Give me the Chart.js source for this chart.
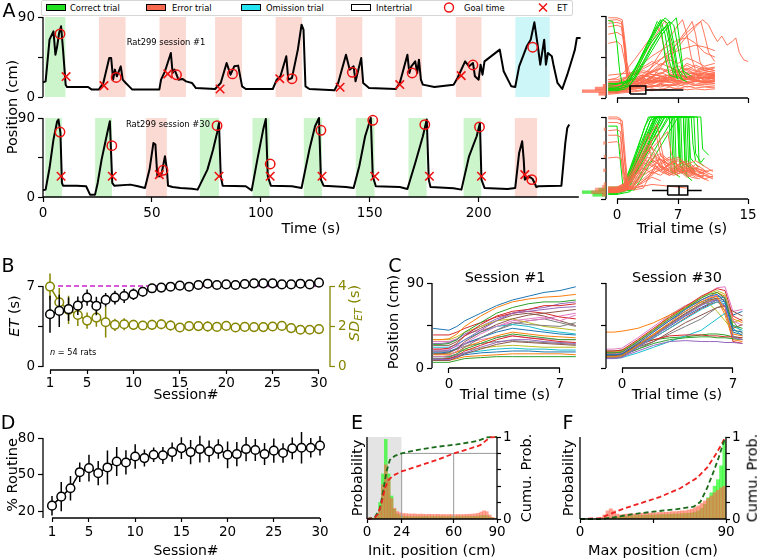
<!DOCTYPE html>
<html><head><meta charset="utf-8">
<script src="https://cdn.jsdelivr.net/npm/chart.js@4.4.1/dist/chart.umd.min.js"></script>
<style>
html,body{margin:0;padding:0;background:#fff}
body{position:relative;width:757px;height:558px;overflow:hidden;font-family:"DejaVu Sans",sans-serif}
canvas{position:absolute}
.t{position:absolute;white-space:nowrap;line-height:1;color:#000;font-family:"DejaVu Sans",sans-serif}
</style></head><body>
<script>
// ===================== DATA =====================
// Panel A, session #1 (time s, position cm)
const s1Trace=[0,16.5,1.2,17.6,3.0,64.5,4.8,73.9,5.7,47.6,6.5,57,7.4,72,8.3,79.5,9.2,53.3,10.4,13.9,11.0,11.3,20.7,11.3,22.4,8.3,25.6,8.3,27.7,15.8,30.4,43.9,31.3,43.9,32.2,19.5,33.0,30.8,33.9,23.3,35.7,34.5,36.6,19.5,38.0,15.8,39.2,12.8,41.0,8.3,53.4,8.3,54.2,19.5,56.0,28.9,58.7,49.5,59.5,27,60.4,30.8,62.2,19.5,64.0,20.3,65.7,17.6,68.4,15.8,70.2,10.1,79.0,9,81.6,15.8,84.3,38.3,86.1,25.1,87.8,34.5,89.6,35.3,91.4,12,93.1,9,105.5,9,107.3,19.5,109.0,23.3,111.7,45.8,112.6,19.5,114.3,21.4,117.0,53.3,118.7,81.4,119.6,75.8,120.5,12,122.3,9,133.8,7.5,135.5,15.8,139.1,47.6,140.8,30.8,142.6,34.5,143.5,17.6,146.1,43.9,147.0,15.8,149.7,10.1,162.0,9,163.8,15.8,167.3,47.6,168.2,27,169.1,34.5,170.9,40.1,171.8,27,172.6,42,173.5,19.5,174.4,13.9,179.7,11.3,188.5,13.9,190.3,21.4,193.8,40.1,195.6,34.5,197.4,38.3,198.3,23.3,200.0,19.5,200.9,36.4,201.8,25.1,202.7,40.1,209.7,53.3,211.5,28.9,215.0,12,216.8,11.3,218.6,34.5,222.1,57,223.9,64.5,225.6,84,227.4,53.3,228.3,36.4,230.1,64.5,230.9,36.4,231.8,49.5,233.6,45.8,234.5,34.5,236.2,15.8,238.4,9,240.7,25.1,243.3,45.8,244.2,53.3,245.1,66.4,246.8,66.4];
const s1Goal=[7.8,71,33.6,22,61.3,25,87,26,114.3,20.6,142,27.8,169.5,27,197.4,36,224.8,56];
const s1ET=[10.6,23,28,12.8,57.3,26,81.3,9,108.7,20.6,136.4,11,163.8,14,192,24];
const s1BandStart=[0.8,25.6,53.4,79.0,106.7,134.3,161.7,189.4,216.8];
const s1BandEnd=[10.4,38.0,65.7,91.4,119.1,146.7,174.0,201.4,232.7];
const s1BandType=['c','e','e','e','e','e','e','e','o'];
// Panel A, session #30
const s30Trace=[0,7.6,1.2,8.4,3.0,33,4.8,65.4,6.5,86.3,7.1,88.2,8.0,73,8.7,16,9.2,12.9,15.4,12.9,19.8,12.2,21.6,2.7,23.9,2.7,25.1,16,26.9,42.6,29.5,73,30.7,86.3,31.8,16,32.7,12.9,40.1,14.1,43.6,12.2,46.8,10.3,48.9,31.2,50.7,61.6,51.6,59.7,52.5,23.6,54.2,23.6,56.0,46.4,56.9,31.2,57.4,12.9,59.5,11.4,63.1,10.3,68.4,9.5,71.0,8.4,75.5,31.2,78.1,54,79.9,73,80.8,84.4,81.6,23.6,82.5,12.9,93.1,12.2,95.8,7.6,98.4,42.6,101.1,76.8,102.3,88.9,103.2,23.6,104.6,12.9,114.3,12.2,118.7,10.3,122.3,54,124.9,80.6,126.7,90,127.6,19.8,128.8,12.9,139.1,11.4,142.6,10.3,145.2,35,147.9,69.2,150.5,90,151.4,23.6,152.8,12.2,163.8,11.4,167.3,9.1,170.9,38.8,174.4,69.2,176.2,88.2,177.1,19.8,177.9,11.4,188.5,9.9,192.1,8.4,195.6,46.4,199.1,69.2,200.6,84.4,201.3,19.8,202.7,10.3,213.3,9.1,216.8,10.3,218.6,50.2,220.0,63.5,220.7,42.6,221.2,19.8,223.0,23.6,224.8,20.5,226.5,11.4,227.4,12.2,238.0,12.9,239.8,61.6,240.7,78.7,241.6,82.5];
const s30Goal=[7.8,74,31.6,58.5,55.1,30.4,79.9,81.3,104.3,37.6,127.6,76,151.4,87.4,175.3,82.5,200.4,79.8,224.4,19.8];
const s30ET=[8.3,23.6,31.8,23.6,53.4,25.5,80.8,23.6,104.3,23.6,128.1,23.6,152.3,23.6,177.4,23.6,201.3,23.6,221.2,25.5];
const s30BandStart=[1.0,23.9,47.2,71.9,96.1,119.6,143.5,167.7,193.0,216.5];
const s30BandEnd=[8.7,31.8,56.9,80.8,104.1,128.1,152.3,176.2,201.3,226.9];
const s30BandType=['c','c','e','c','c','c','c','c','c','e'];

// Panel A right: trial-time traces [t, pos, t, pos, ...]
const a3Red=[
[-1,8,0,9,1,10,2,12,3,11,4,14,5,12,6,15,7,13,8,16,9,14,10,15,11.2,14],
[-1,12,0,13,1,15,2,18,3,20,4,17,5,22,6,19,7,24,8,20,9,23,10,21,11.2,22],
[-1,5,0,6,1,8,2,10,3,14,4,18,5,16,6,20,7,25,8,22,9,18,10,24,11.2,20],
[-1,15,0,16,1,20,2,26,3,30,4,28,5,32,6,27,7,30,8,26,9,28,10,30,11.2,28],
[-1,10,0,10,1,12,2,16,3,22,4,30,5,38,6,34,7,28,8,32,9,26,10,22,11.2,25],
[-1,10,0,11,1,14,2,25,3,45,4,62,5,78,5.5,85,6,70,6.5,40,7,25,8,22,9,20,10,18,11.2,20],
[-1,8,0,9,2,12,3,20,4,35,5,50,6,66,7,80,7.5,86,8,70,8.5,45,9,30,10,26,11.2,24],
[-1,12,0,12,2,14,4,22,5,34,6,48,7,62,8,75,8.6,84,9,70,9.5,40,10,30,11.2,28],
[-1,14,0,15,2,18,4,28,6,44,7,56,8,68,9,78,9.8,86,10.5,80,11,70,11.5,62,12,68,12.6,58,13.2,62,13.6,66,14,50,14.5,42,15,40],
[-1,85,0,86,0.5,84,0.8,60,1,30,1.3,14,2,12,3,14,4,12,5,14,6,13,7,15,8,12,9,14,10,13,11.2,12],
[-1,82,0,83,0.6,81,1,50,1.2,20,2,18,3,22,4,18,6,20,8,17,10,19,11.2,18],
[-1,60,0,62,0.5,58,1,35,1.5,20,3,16,5,19,7,16,9,18,11.2,16],
[-1,20,0,22,1,30,2,42,3,55,4,68,4.6,78,5,72,5.5,50,6,35,7,28,8,30,9,26,10,28,11.2,26],
[-1,6,0,6,1,7,2,8,3,9,4,8,5,10,6,9,7,11,8,9,9,10,10,9,11.2,10],
[-1,18,0,18,1,22,2,30,3,38,4,46,5,52,6,58,7,64,8,66,9,60,10,50,11.2,45],
[-1,25,0,26,2,28,3,34,4,40,5,36,6,42,7,38,8,44,9,40,10,35,11.2,38],
[-1,9,0,10,2,14,3,18,4,24,5,28,6,24,7,30,8,36,9,30,10,34,11.2,30],
[-1,11,0,12,1,16,3,26,5,42,6,52,7,60,8,72,9,80,9.6,84,10,70,10.5,50,11.2,40],
[-1,7,0,8,1,9,2,14,3,12,4,16,5,20,6,18,7,22,8,18,9,20,10,16,11.2,18],
[-1,13,0,14,2,20,4,26,6,22,8,28,10,24,11.2,26],
[-1,16,0,17,1.5,24,3,32,4.5,40,6,48,7.5,54,9,58,10,56,11.2,52],
[-1,70,0,72,0.7,68,1.1,40,1.5,25,3,28,5,24,7,26,9,22,11.2,24],
[-1,4,0,5,1,6,2,7,3,8,4,10,5,9,6,12,7,10,8,13,9,11,10,12,11.2,11],
[-1,14,0,14,1,17,2,15,3,19,4,22,5,18,6,24,7,21,8,26,9,22,10,27,11.2,24],
[-1,9,0,9,1,11,2,13,3,17,4,15,5,19,6,23,7,19,8,22,9,26,10,20,11.2,23],
[-1,17,0,18,1,19,2,22,3,25,4,23,5,27,6,31,7,27,8,33,9,29,10,32,11.2,30],
[-1,6,0,7,1,9,2,11,3,10,4,13,5,15,6,13,7,16,8,18,9,15,10,17,11.2,16],
[-1,11,0,11,1,13,2,17,3,21,4,19,5,24,6,22,7,26,8,23,9,27,10,25,11.2,27],
[-1,13,0,13,1,14,2,16,3,24,4,30,5,26,6,34,7,30,8,38,9,34,10,30,11.2,33],
[-1,8,0,8,1,10,2,9,3,13,4,12,5,16,6,14,7,18,8,15,9,19,10,17,11.2,19],
[-1,20,0,20,1,23,2,27,3,24,4,29,5,33,6,29,7,35,8,31,9,36,10,32,11.2,34],
[-1,7,0,7,1,8,2,12,3,16,4,21,5,17,6,22,7,18,8,24,9,20,10,23,11.2,21],
[-1,10,0,11,1,12,2,11,3,15,4,19,5,23,6,20,7,17,8,21,9,25,10,19,11.2,22],
[-1,15,0,15,1,18,2,21,3,18,4,24,5,20,6,26,7,23,8,20,9,24,10,28,11.2,25],
[-1,78,0,80,0.5,78,0.9,50,1.2,22,2,20,3,24,5,21,7,25,9,21,11.2,23],
[-1,88,0,88,0.6,86,1,55,1.3,18,2,16,4,19,6,17,8,21,10,18,11.2,19]];
const a3Green=[
[-1,10,0,10,1,12,2,25,3,45,4,65,5,82,5.5,88,6,84,6.5,60,7,30,7.5,20,8,18],
[-1,14,0,15,1.5,20,2.5,38,3.5,58,4.5,76,5.2,86,5.8,82,6.2,50,6.8,25,7.5,20],
[-1,8,0,8,1,10,2,20,3,36,4,52,5,68,6,80,6.8,88,7.2,60,7.6,28,8,22],
[-1,12,0,12,1,14,2,30,3,50,4,70,4.6,84,5,80,5.5,45,6,25,7,22],
[-1,85,-0.5,84,0,60,0.3,30,0.6,15,1.5,20,2.5,40,3.5,60,4.5,78,5,86,5.5,70,6,40,6.5,25],
[-1,10,0,11,2,22,3,38,4,56,5,72,6,84,6.5,80,7,55,7.5,30,8.5,24],
[-1,16,0,16,1,18,2,32,3,48,4,62,5,74,5.8,80,6.3,62,6.8,35,7.5,25],
[-1,9,0,9,1.5,14,3,40,4,58,5,72,5.6,78,6,60,6.5,30,7,20]];
const a4Red=[
[-1,88,0,88,0.6,86,1,40,1.3,12,2,10,3,12,4,30,5,48,6,40,7,30,8,34,9,28],
[-1,75,0,76,0.4,74,0.8,30,1.2,10,2,12,3,20,4,26,5,35,6,30,7,38,8,32,9,26],
[-1,62,0,63,0.3,60,0.7,25,1,10,2,12,4,16,6,14,8,12],
[-1,45,0,46,0.5,44,0.9,20,1.2,10,2,12,3,15],
[-1,10,0,10,1,14,2,30,3,50,3.5,60,4,42,5,30,6,40,7,34,8,28,9,32,10,26,11,24],
[-1,8,0,8,1,12,2,28,3,46,4,64,4.5,70,5,48,6,35,7,30,8,36,9,28,10,22],
[-1,12,0,12,1,16,2,34,3,54,4,74,4.6,82,5,60,5.5,38,6.5,30,7.5,36,8.5,30,9.5,24,10.5,20],
[-1,9,0,9,1.5,14,3,30,4,40,5,44,6,38,7,42,8,34,9,30,10,28],
[-1,11,0,11,1,13,2.5,36,3.8,58,4.5,52,5.5,30,6.5,26,7.5,30,8.5,24,9.5,22],
[-1,7,0,7,1,10,3,40,4,56,5,66,5.8,74,6.2,50,7,36,8,30,9,34,10.5,30],
[-1,10,0,10,2,20,3,36,4,48,5,38,6,44,7,32,8,40,9,28,10,24],
[-1,13,0,13,1,18,2,38,3,62,3.6,72,4,56,5,34,6,28,7,34,8,26,9,30],
[-1,70,0,70,0.4,68,0.8,30,1.1,12,2,14,3,30,4,44,5,36,6,30,7,26],
[-1,8,0,8,1.5,12,3,26,4,32,5,36,6,32,7,28,8,30,9,24,10,26,11,22],
[-1,10,0,10,1,12,2,24,3,40,4,36,5,44,6,30,7,38,8,42,9,34,10,30,11,32],
[-1,9,0,9,1,11,2.5,30,3.5,46,4.5,40,5.5,34,6.5,42,7.5,28,8.5,36,9.5,30,10.5,26],
[-1,12,0,12,1,15,2,26,3,34,4,28,5,40,6,46,7,36,8,30,9,38,10,32],
[-1,8,0,8,1,10,2,18,3,28,4,36,5,30,6,26,7,32,8,24,9,28,10,22,11,25],
[-1,11,0,11,1.5,20,2.5,42,3.5,54,4.5,46,5.5,40,6.5,34,7.5,40,8.5,32,9.5,36],
[-1,10,0,10,1,14,2,22,3,32,4,44,5,50,6,42,7,46,8,38,9,42,10,36,11,30],
[-1,7,0,7,1,9,2,16,3,22,4,30,5,26,6,34,7,28,8,32,9,26,10,30,11,26],
[-1,13,0,13,1,17,2,32,3,44,4,38,5,32,6,38,7,44,8,38,9,32,10,28],
[-1,84,0,84,0.5,82,0.9,40,1.2,14,2,12,3,20,4,28,5,32,6,26,7,30],
[-1,90,0,90,0.4,88,0.8,50,1.1,15,2,13,3,18,4,24,5,20]];
const a4Green=[
[-1,8,0,8,0.5,10,4,90,6.2,90,6.4,40,7,30],
[-1,10,0,10,1,12,4.5,90,7,90,7.2,35,8,28],
[-1,6,0,6,0.8,8,5,90,7.6,90,7.8,40,8.5,30],
[-1,9,0,9,0.6,10,3.6,90,6.6,90,6.8,32,7.5,28],
[-1,12,0,12,1.2,14,5.5,90,8.2,90,8.4,45,9.3,35],
[-1,7,0,7,0.5,9,4.2,88,5,90,8,90,8.2,38,9,30],
[-1,11,0,11,1,13,6,90,8.8,90,9,50,9.6,40,10,45],
[-1,8,0,8,1,10,3.8,86,4.5,90,7.3,90,7.5,30,8,25],
[-1,10,0,10,0.7,12,4.8,90,6,90,6.2,30,7,26],
[-1,5,0,5,1.5,8,6.5,90,9.2,90,9.4,40,10,36],
[-1,9,0,9,0.9,11,5.2,90,7.8,90,8,25,8.6,20],
[-1,13,0,13,1.4,15,5.8,90,8.5,90,8.7,60,9,42],
[-1,7,0,7,0.6,9,4.4,90,6.9,90,7.1,45,7.8,35],
[-1,10,0,10,1.1,12,5.4,90,9.6,90,9.8,55,10.5,48],
[-1,80,0,80,0.4,40,0.7,12,1.5,14,5,90,7.1,90,7.3,35,8,30],
[-1,8,0,8,2,10,7,90,8.2,90,8.4,30,9,28],
[-1,11,0,11,1,13,3.2,80,3.8,90,6.4,90,6.6,28,7.2,24],
[-1,9,0,9,0.8,11,4.6,90,7.6,90,7.8,38,8.6,33]];
// box plots of ET [lowWhisker, q1, median, q3, highWhisker] (s)
const boxTop=[1.5,1.5,1.5,3.3,7.6];
const boxBottom=[4.0,5.8,7.1,8.1,9.7];
// sideways histograms of initial position
const sideBins=[4.5,7.5,10.5,13.5,16.5,31.5,46.5,61.5,76.5];
const sideTopRed=[0.3,1.0,0.45,0.12,0,0,0,0,0];
const sideBotGreen=[0.55,1.0,0.3,0.05,0,0,0,0,0];
const sideBotRed=[0.15,0.6,0.45,0.15,0.08,0.1,0.08,0.1,0.08];

// Panel B
const sessions=[1,2,3,4,5,6,7,8,9,10,11,12,13,14,15,16,17,18,19,20,21,22,23,24,25,26,27,28,29,30];
const etMean=[4.56,4.85,5.0,5.3,6.0,5.28,5.8,6.0,6.14,6.28,6.5,6.8,6.86,6.94,7.03,6.94,7.09,7.2,7.09,7.14,7.09,7.17,7.23,7.23,7.23,7.14,7.14,7.2,7.14,7.29];
const etErr=[1.6,1.4,1.0,0.8,0.7,0.8,0.6,0.6,0.6,0.5,0.4,0.3,0.35,0.3,0.3,0.25,0.2,0.2,0.2,0.2,0.2,0.2,0.15,0.2,0.2,0.2,0.2,0.2,0.2,0.15];
const sdMean=[3.97,3.2,2.82,2.57,2.29,2.44,2.21,2.08,2.11,2.08,2.05,2.08,2.11,2.05,1.95,2.02,2.02,2.0,1.98,2.03,1.95,1.98,1.97,1.97,2.0,2.03,1.92,1.84,1.84,1.87];
const sdErr=[0.65,0.7,0.7,0.55,0.4,0.45,0.75,0.3,0.3,0.25,0.2,0.25,0.25,0.25,0.2,0.15,0.2,0.25,0.2,0.2,0.15,0.2,0.2,0.15,0.15,0.15,0.2,0.15,0.15,0.15];
const targetET=7;
const sessionTicks=[1,5,10,15,20,25,30];

// Panel C
const c1Time=[-1,-0.5,0,0.5,1,2,3,4,5,6,7,8];
const c1Lines=[
[42,41,40,44,50,58,66,72,76,80,82,86],[30,30,31,36,44,55,64,70,73,75,76,78],[25,25,26,30,38,48,58,64,68,70,70,72],
[20,20,21,26,34,46,55,60,62,66,66,68],[18,18,19,24,30,40,50,58,60,62,64,65],[15,15,16,20,28,38,46,52,56,58,60,62],
[12,12,13,18,26,36,44,50,52,54,50,56],[10,10,11,15,22,32,40,48,46,45,44,48],[30,30,30,33,38,44,50,52,48,44,42,40],
[22,22,22,25,30,38,44,46,44,40,38,36],[16,16,17,21,26,32,38,42,40,38,36,35],[14,14,14,17,22,28,34,38,36,34,33,32],
[12,12,12,15,20,26,32,36,34,32,30,30],[10,10,10,13,18,24,30,34,32,30,28,27],[9,9,9,12,16,22,27,30,30,28,27,26],
[8,8,8,11,15,20,25,28,27,26,25,24],[20,20,20,23,26,30,33,34,32,31,30,30],[18,18,18,20,23,26,28,29,28,27,26,25],
[15,15,15,17,19,21,23,24,23,22,22,22],[12,12,12,14,16,18,20,21,20,20,19,19],[10,10,10,12,14,16,17,18,18,17,17,17],
[8,8,8,10,12,13,14,15,15,15,15,14],[6,6,6,8,10,11,12,12,12,12,12,12],[35,35,35,38,42,48,54,58,60,58,54,52],
[26,26,27,30,36,44,52,58,62,64,68,70],[24,24,24,28,34,42,50,56,58,55,50,45],[28,28,28,31,36,40,44,48,50,52,55,58],
[17,17,17,20,25,32,40,46,50,52,48,44]];
const c30Time=[-1,-0.5,0,1,2,3,4,5,5.5,6,6.5,7,7.6];
const c30Lines=[
[14,14,15,26,38,50,62,72,76,78,70,40,38],[12,12,13,24,36,48,60,70,74,76,60,36,34],[16,16,17,28,40,52,63,74,78,80,74,45,42],
[18,18,19,30,42,54,65,76,80,84,82,55,50],[10,10,11,22,33,45,56,66,70,72,66,32,30],[13,13,14,25,36,47,58,68,72,74,72,42,46],
[15,15,16,27,39,51,62,72,75,77,75,50,45],[11,11,12,23,34,46,57,67,70,73,60,34,30],[17,17,18,29,41,53,64,75,79,82,78,48,52],
[12,12,13,22,32,42,52,62,66,70,68,44,40],[14,14,15,24,34,44,55,64,68,72,70,38,35],[38,38,39,42,48,56,64,72,76,80,76,52,48],
[13,13,14,20,26,30,32,33,33,32,32,31,30],[16,16,17,24,30,34,35,35,34,34,33,33,32],[11,11,12,18,24,28,29,28,28,28,27,27,26],
[15,15,16,22,28,38,48,56,60,64,66,60,55],[20,20,21,32,44,56,66,74,80,85,86,60,62],[12,12,13,20,28,36,44,52,58,64,66,50,36],
[14,14,15,26,40,56,66,70,68,60,50,40,38],[10,10,11,16,22,28,34,40,46,52,58,42,34],[16,16,17,28,39,50,60,70,73,76,74,56,60],
[13,13,14,24,35,46,57,67,71,74,56,30,28],[18,18,19,26,30,32,33,35,36,36,35,33,32],[11,11,12,22,32,42,53,63,67,70,65,28,26]];

// Panel D
const routine=[24.4,31.8,38.7,51.9,55.2,51.1,55.8,60.7,59.9,64.8,63.5,66.2,65.7,68.4,71.7,68.4,70.9,69,70.9,66.2,66.8,70.9,70.1,66.8,69.6,67.7,71.5,72,72,73.7];
const routineErr=[8,12,10,8,11,10,14,12,10,10,7,6,7,8,9,10,11,9,8,11,10,10,9,9,10,8,9,13,8,8];

// Panels E/F: histograms (2-cm bins) and cumulative curves
const posBins=[1,3,5,7,9,11,13,15,17,19,21,23,25,27,29,31,33,35,37,39,41,43,45,47,49,51,53,55,57,59,61,63,65,67,69,71,73,75,77,79,81,83,85,87,89];
const initGreen=[0,0,0.01,0.04,0.2,0.55,0.97,0.55,0.28,0.12,0.06,0.04,0.035,0.03,0.03,0.028,0.03,0.03,0.028,0.03,0.03,0.028,0.03,0.03,0.028,0.03,0.03,0.028,0.03,0.03,0.028,0.03,0.03,0.028,0.03,0.03,0.03,0.032,0.035,0.04,0.045,0.04,0.025,0.01,0];
const initRed=[0,0,0.01,0.03,0.12,0.42,0.66,0.5,0.25,0.13,0.09,0.075,0.068,0.065,0.062,0.06,0.062,0.058,0.06,0.058,0.055,0.058,0.056,0.055,0.057,0.054,0.055,0.053,0.055,0.054,0.052,0.055,0.053,0.054,0.056,0.058,0.06,0.063,0.07,0.085,0.1,0.09,0.05,0.02,0];
const initCdfGreen=[0,0,5.3,0.02,8.8,0.12,11.1,0.33,13.5,0.58,15.8,0.72,19.3,0.77,23.9,0.8,34.3,0.84,48.3,0.88,62.2,0.91,76,0.95,83,0.995,90,1];
const initCdfRed=[0,0,5,0.01,7.7,0.06,10,0.19,12.3,0.37,14.6,0.47,18.1,0.53,23.9,0.58,34.3,0.64,48.3,0.72,60.3,0.8,71.5,0.86,78.4,0.9,81.9,0.95,85.4,0.995,90,1];
const maxGreen=[0,0,0,0,0,0,0,0.005,0.01,0.015,0.02,0.025,0.03,0.032,0.035,0.038,0.04,0.04,0.042,0.045,0.045,0.048,0.05,0.05,0.052,0.055,0.055,0.058,0.06,0.06,0.062,0.065,0.068,0.07,0.075,0.085,0.1,0.13,0.18,0.26,0.32,0.4,0.48,0.65,0.95];
const maxRed=[0,0,0,0,0,0.005,0.02,0.05,0.1,0.125,0.1,0.06,0.05,0.055,0.06,0.065,0.06,0.065,0.065,0.07,0.07,0.072,0.075,0.075,0.08,0.08,0.082,0.085,0.09,0.09,0.095,0.1,0.1,0.11,0.12,0.14,0.16,0.19,0.22,0.25,0.28,0.32,0.35,0.38,0.4];
const maxCdfRed=[0,0,12.4,0.01,18.5,0.06,26.8,0.125,37,0.19,49.4,0.27,61.8,0.375,72,0.5,78.3,0.625,84.4,0.81,88.6,0.96,89.6,1];
const maxCdfGreen=[0,0,12.4,0,20.6,0.02,33,0.06,45.3,0.09,59.7,0.12,70,0.15,74.2,0.21,78.3,0.375,82.4,0.58,85.5,0.75,88.6,0.94,90,1];

// ===================== HELPERS =====================
const FAM='DejaVu Sans';
Chart.defaults.font.family=FAM;
Chart.register({id:'spines',afterDraw(chart){
  const ctx=chart.ctx;
  Object.values(chart.scales).forEach(s=>{
    const sp=s.options.spine; if(!sp||s.options.display===false) return;
    ctx.save();ctx.strokeStyle=sp.color;ctx.lineWidth=1.3;ctx.beginPath();
    if(s.isHorizontal()){const y=s.position==='top'?s.bottom:s.top;ctx.moveTo(s.getPixelForValue(sp.from),y);ctx.lineTo(s.getPixelForValue(sp.to),y);}
    else{const x=s.position==='right'?s.left:s.right;ctx.moveTo(x,s.getPixelForValue(sp.from));ctx.lineTo(x,s.getPixelForValue(sp.to));}
    ctx.stroke();ctx.restore();
  });
}});
function ax(pos,min,max,ticks,o){
  o=o||{};
  const horiz=pos==='bottom'||pos==='top';
  const col=o.color||'#000';
  const noT=ticks.length===0;
  const tk=noT?[min]:ticks;
  const labels=o.labels||{};
  return {type:'linear',position:pos,min,max,display:o.display!==false,offset:false,
    border:{display:false},
    grid:{display:!noT,offset:false,drawOnChartArea:false,drawTicks:true,tickLength:o.tl??5,tickColor:col,tickWidth:1.2,color:col},
    ticks:{display:!noT,autoSkip:false,maxRotation:0,minRotation:0,padding:o.pad??3,color:col,font:{family:FAM,size:o.fs||13.5},
      callback:(v)=>{const l=labels[String(v)];return l===undefined?'':l;}},
    afterBuildTicks:(s)=>{s.ticks=tk.map(v=>({value:v}));},
    afterFit:(s)=>{if(horiz){s.height=o.size||0;s.paddingLeft=0;s.paddingRight=0;}else{s.width=o.size||0;s.paddingTop=0;s.paddingBottom=0;}},
    spine:{from:o.spine?o.spine[0]:(noT?min:ticks[0]),to:o.spine?o.spine[1]:(noT?max:ticks[ticks.length-1]),color:col}
  };
}
const lab=(arr)=>{const m={};arr.forEach(v=>m[String(v)]=String(v));return m;};
function mk(rect,area,sz,scales,datasets,type,extra){
  const [cx,cy,cw,ch]=rect,[L,T,R,B]=area;
  const cv=document.createElement('canvas');
  cv.width=cw;cv.height=ch;
  cv.style.left=cx+'px';cv.style.top=cy+'px';cv.style.width=cw+'px';cv.style.height=ch+'px';
  document.body.appendChild(cv);
  const padding={left:L-cx-(sz.l||0),right:cx+cw-R-(sz.r||0),top:T-cy-(sz.t||0),bottom:cy+ch-B-(sz.b||0)};
  return new Chart(cv,{type:type||'line',data:{datasets},options:Object.assign({responsive:false,maintainAspectRatio:false,animation:false,events:[],devicePixelRatio:1,
    layout:{padding},plugins:{legend:{display:false},tooltip:{enabled:false}},scales},extra||{})});
}
const P=a=>{const o=[];for(let i=0;i<a.length;i+=2)o.push({x:a[i],y:a[i+1]});return o;};
const ln=(data,color,w,o)=>Object.assign({type:'line',data,borderColor:color,backgroundColor:color,borderWidth:w,pointRadius:0,pointHoverRadius:0,fill:false,tension:0,clip:false,order:5},o||{});
const errSegs=(xs,m,e)=>{const o=[];xs.forEach((x,i)=>{o.push({x,y:m[i]-e[i]},{x,y:m[i]+e[i]},{x,y:null});});return o;};
const bandCol={c:'#ccf5cc',e:'#fcdad4',o:'#cdf6f8'};
const bandSets=(st,en,ty)=>st.map((s,i)=>({type:'line',data:[{x:s,y:90},{x:en[i],y:90}],borderWidth:0,borderColor:'rgba(0,0,0,0)',backgroundColor:bandCol[ty[i]],fill:'origin',pointRadius:0,order:20}));
const marks=(tr,goal,et)=>[
  ln(P(tr),'#000',2,{order:5,borderJoinStyle:'round'}),
  ln(P(goal),'#ee1111',1.5,{showLine:false,pointRadius:4.7,pointStyle:'circle',pointBackgroundColor:'rgba(0,0,0,0)',pointBorderColor:'#ee1111',pointBorderWidth:1.5,order:1}),
  ln(P(et),'#ee1111',1.6,{showLine:false,pointRadius:6,pointStyle:'crossRot',pointBorderColor:'#ee1111',pointBorderWidth:1.6,order:1})];
function T(html,x,y,size,o){o=o||{};const d=document.createElement('div');d.className='t';d.innerHTML=html;
  d.style.left=x+'px';d.style.top=y+'px';d.style.fontSize=size+'px';if(o.color)d.style.color=o.color;
  let tr=o.left?'translate(0,-50%)':'translate(-50%,-50%)';if(o.rot)tr+=' rotate(-90deg)';d.style.transform=tr;document.body.appendChild(d);}

// ===================== PANEL A (left) =====================
mk([0,0,595,108],[43,17,581,97],{l:43},
  {x:ax('bottom',0,247,[0,50,100,150,200],{display:false}),
   y:ax('left',0,90,[0,45,90],{size:43,labels:{'0':'0','90':'90'}})},
  [...bandSets(s1BandStart,s1BandEnd,s1BandType),...marks(s1Trace,s1Goal,s1ET)]);
mk([0,105,595,130],[43,118,581,197],{l:43,b:38},
  {x:ax('bottom',0,247,[0,50,100,150,200],{size:38,labels:lab([0,50,100,150,200]),spine:[0,246]}),
   y:ax('left',0,90,[0,45,90],{size:43,labels:{'0':'0','90':'90'}})},
  [...bandSets(s30BandStart,s30BandEnd,s30BandType),...marks(s30Trace,s30Goal,s30ET)]);

// ===================== PANEL A (right) =====================
const RED='rgba(255,105,75,0.9)', GRN='#00e000';
function boxSets(b,yl,yh){const ym=(yl+yh)/2;return [
  ln(P([b[1],yl,b[3],yl,b[3],yh,b[1],yh,b[1],yl]),'#000',1.5,{order:1}),
  ln([{x:b[0],y:ym},{x:b[1],y:ym},{x:b[3],y:null},{x:b[3],y:ym},{x:b[4],y:ym}],'#000',1.5,{order:1}),
  ln(P([b[2],yl,b[2],yh]),'#000',1.5,{order:1})];}
mk([580,0,177,108],[606,16,748,98],{l:26,b:10},
  {x:ax('bottom',-1.26,15,[0,7,15],{size:10}),y:ax('left',0,90,[0,45,90],{size:26})},
  [...a3Red.map(a=>ln(P(a),RED,1,{order:8})),...a3Green.map(a=>ln(P(a),GRN,1,{order:6})),...boxSets(boxTop,4.4,13.2)]);
mk([580,105,177,130],[606,117,748,199],{l:26,b:36},
  {x:ax('bottom',-1.26,15,[0,7,15],{size:36,labels:lab([0,7,15])}),y:ax('left',0,90,[0,45,90],{size:26})},
  [...a4Green.map(a=>ln(P(a),GRN,1,{order:8})),...a4Red.map(a=>ln(P(a),RED,1,{order:6})),...boxSets(boxBottom,4.4,14.3)]);
const sideScales=()=>({x:{type:'linear',min:0,max:1,reverse:true,display:false,offset:false},y:{type:'linear',min:0,max:90,display:false,offset:false}});
const sideBar=(vals,col,ord)=>({type:'bar',data:sideBins.map((p,i)=>({x:vals[i],y:p})),backgroundColor:col,borderWidth:0,grouped:false,barPercentage:1,categoryPercentage:1,order:ord});
mk([580,0,27,108],[582,16,606,98],{},sideScales(),[sideBar(sideTopRed,'rgba(255,99,71,0.75)',2)],'bar',{indexAxis:'y'});
mk([580,105,27,130],[582,117,606,199],{},sideScales(),[sideBar(sideBotGreen,'rgba(0,230,0,0.65)',3),sideBar(sideBotRed,'rgba(255,99,71,0.6)',2)],'bar',{indexAxis:'y'});

// ===================== PANEL B =====================
const OLIVE='#858500';
mk([0,250,370,148],[43,286,330,370],{l:43,r:25,b:28},
  {x:ax('bottom',0.245,31.19,sessionTicks,{size:28,labels:lab(sessionTicks),pad:1,tl:4}),
   y:ax('left',-0.26,7,[0,3.5,7],{size:43,labels:{'0':'0','7':'7'}}),
   y1:ax('right',-0.149,4,[0,2,4],{size:25,labels:lab([0,2,4]),color:OLIVE})},
  [ln(sessions.map(s=>({x:s,y:targetET})),'#cc22cc',1.5,{borderDash:[5,3],order:9}),
   ln(errSegs(sessions,sdMean,sdErr),OLIVE,1.5,{yAxisID:'y1',order:8}),
   ln(sessions.map((s,i)=>({x:s,y:sdMean[i]})),OLIVE,1.5,{yAxisID:'y1',order:7,pointRadius:4.3,pointBackgroundColor:'#fff',pointBorderColor:OLIVE,pointBorderWidth:1.5}),
   ln(errSegs(sessions,etMean,etErr),'#000',1.5,{order:4}),
   ln(sessions.map((s,i)=>({x:s,y:etMean[i]})),'#000',1.5,{order:3,pointRadius:4.3,pointBackgroundColor:'#fff',pointBorderColor:'#000',pointBorderWidth:1.5})]);

// ===================== PANEL C =====================
const TAB=['#1f77b4','#ff7f0e','#2ca02c','#d62728','#9467bd','#8c564b','#e377c2','#7f7f7f','#bcbd22','#17becf'];
mk([380,255,200,145],[432,283,578,368],{l:52,b:32},
  {x:ax('bottom',-1.07,8.14,[0,7],{size:32,labels:lab([0,7])}),y:ax('left',0,90,[0,45,90],{size:52,labels:{'0':'0','90':'90'}})},
  c1Lines.map((a,i)=>ln(c1Time.map((t,j)=>({x:t,y:a[j]})),TAB[i%10],1)));
mk([590,255,165,145],[606,283,745,368],{l:16,b:32},
  {x:ax('bottom',-1.01,7.76,[0,7],{size:32,labels:lab([0,7])}),y:ax('left',0,90,[0,45,90],{size:16})},
  c30Lines.map((a,i)=>ln(c30Time.map((t,j)=>({x:t,y:a[j]})),TAB[i%10],1)));

// ===================== PANEL D =====================
mk([0,425,340,133],[43,438,320,518],{l:43,b:40},
  {x:ax('bottom',0.026,30,sessionTicks,{size:40,labels:lab(sessionTicks),tl:4,pad:2}),
   y:ax('left',14.25,80,[20,50,80],{size:43,labels:lab([20,50,80]),spine:[14.25,80]})},
  [ln(errSegs(sessions,routine,routineErr),'#000',1.5,{order:4}),
   ln(sessions.map((s,i)=>({x:s,y:routine[i]})),'#000',1.5,{order:3,pointRadius:4.3,pointBackgroundColor:'#fff',pointBorderColor:'#000',pointBorderWidth:1.5})]);

// ===================== PANELS E, F =====================
const HG='rgba(0,255,0,0.6)', HR='rgba(255,99,71,0.6)';
const hist=(vals,col,ord)=>({type:'bar',data:posBins.map((x,i)=>({x,y:vals[i]})),backgroundColor:col,borderWidth:0,grouped:false,barPercentage:1,categoryPercentage:1,order:ord,yAxisID:'y'});
const cumTicks=[0,0.2,0.4,0.6,0.8,1];
mk([355,425,180,133],[367,437,497,519],{l:12,r:20,b:39},
  {x:ax('bottom',0,90,[0,24,60,90],{size:39,labels:lab([0,24,60,90]),tl:4,pad:1}),
   y:ax('left',0,1,[],{size:12}),
   y1:ax('right',0,1,cumTicks,{size:20,labels:{'0':'0','1':'1'},tl:4,pad:2})},
  [{type:'line',yAxisID:'y1',data:[{x:0,y:1},{x:24,y:1}],fill:'origin',backgroundColor:'#e4e4e4',borderColor:'rgba(0,0,0,0)',borderWidth:0,pointRadius:0,order:30},
   hist(initGreen,HG,20),hist(initRed,HR,19),
   ln(P([24,0,24,0.8,90,0.8]),'#999',1,{yAxisID:'y1',order:10}),
   ln(P([60,0,60,0.8]),'#999',1,{yAxisID:'y1',order:10}),
   ln(P(initCdfGreen),'#1a6b1a',1.8,{borderDash:[5,3],yAxisID:'y1',order:2}),
   ln(P(initCdfRed),'#ee2020',1.8,{borderDash:[5,3],yAxisID:'y1',order:1})],'bar');
mk([568,425,189,133],[580,437,726,519],{l:12,r:20,b:39},
  {x:ax('bottom',0,90,[0,45,90],{size:39,labels:{'0':'0','90':'90'},tl:4,pad:1}),
   y:ax('left',0,1,[],{size:12}),
   y1:ax('right',0,1,cumTicks,{size:20,labels:{'0':'0','1':'1'},tl:4,pad:2})},
  [hist(maxGreen,HG,20),hist(maxRed,HR,19),
   ln(P(maxCdfRed),'#ee2020',1.8,{borderDash:[5,3],yAxisID:'y1',order:2}),
   ln(P(maxCdfGreen),'#1a6b1a',1.8,{borderDash:[5,3],yAxisID:'y1',order:1})],'bar');

// ===================== TEXT =====================
const AX=14.5;
T('A',9,10,19);T('B',8,265,19);T('C',395,265,19);T('D',8,422,19);T('E',357,422,19);T('F',568,422,19);
T('Position (cm)',12,107,AX,{rot:1});
T('Time (s)',311,228,AX);T('Trial time (s)',682,228,AX);
T('Rat299 session #1',166,42,8.4);T('Rat299 session #30',168,124,8.4);
T('<i>ET</i> (s)',14,316,AX,{rot:1});
T('<i>SD</i><sub style="font-size:0.7em;vertical-align:-0.3em"><i>ET</i></sub> (s)',356,313,AX,{rot:1,color:OLIVE});
T('<i>n</i> = 54 rats',50,352,8.2,{left:1});
T('Session#',186,394,14);
T('Session #1',505,277,14.4);T('Session #30',677,277,14.4);
T('Position (cm)',393,322,AX,{rot:1});
T('Trial time (s)',505,394,AX);T('Trial time (s)',677,394,AX);
T('% Routine',12,475,AX,{rot:1});T('Session#',186,550,14);
T('Probability',357,478,AX,{rot:1});T('Cumu. Prob.',526,478,AX,{rot:1});T('Init. position (cm)',432,550,AX);
T('Probability',568,478,AX,{rot:1});T('Cumu. Prob.',752,478,AX,{rot:1});T('Max position (cm)',653,550,AX);

// legend (panel A)
(function(){
  const b=document.createElement('div');
  b.style.cssText='position:absolute;left:41px;top:0px;width:530px;height:14px;border:1px solid #d6d6d6;border-radius:2px;background:#fff';
  document.body.appendChild(b);
  const patch=(x,c)=>{const d=document.createElement('div');d.style.cssText=`position:absolute;left:${x}px;top:4px;width:18px;height:5px;background:${c};border:1px solid #000`;document.body.appendChild(d);};
  patch(46,'#22e022');patch(146,'#f8694e');patch(241,'#22e4f2');patch(351,'#fff');
  const fs=8.4;
  T('Correct trial',70,8,fs,{left:1});T('Error trial',172,8,fs,{left:1});T('Omission trial',266,8,fs,{left:1});
  T('Intertrial',376,8,fs,{left:1});T('Goal time',464,8,fs,{left:1});T('ET',557,8,fs,{left:1});
  const s=document.createElementNS('http://www.w3.org/2000/svg','svg');
  s.setAttribute('width','757');s.setAttribute('height','16');s.style.cssText='position:absolute;left:0;top:0';
  s.innerHTML='<circle cx="449" cy="7.5" r="4.5" fill="none" stroke="#ee1111" stroke-width="1.4"/><path d="M539,3.5 L547,11.5 M547,3.5 L539,11.5" stroke="#ee1111" stroke-width="1.5"/>';
  document.body.appendChild(s);
})();
</script>
</body></html>
